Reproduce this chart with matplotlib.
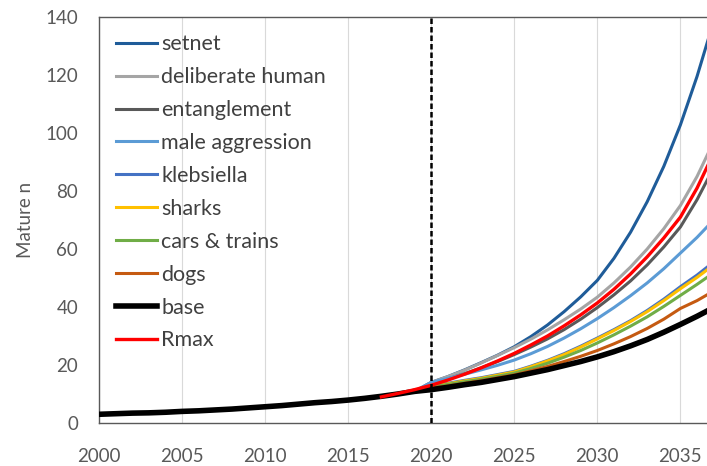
import matplotlib.pyplot as plt

plt.rcParams['font.family'] = ['Lato', 'DejaVu Sans']

# years
hist_years = list(range(2000, 2020))
proj_years = list(range(2020, 2038))
rmax_years = list(range(2017, 2038))

# shared history 2000-2019
history = [3.0, 3.2, 3.4, 3.5, 3.7, 4.0, 4.2, 4.5, 4.8, 5.2,
           5.6, 6.0, 6.5, 7.0, 7.4, 7.9, 8.5, 9.2, 10.0, 10.9]

# projections 2020-2037
setnet = [14.0, 16.0, 18.3, 20.8, 23.4, 26.3, 29.8, 33.8, 38.4, 43.5,
          49.2, 56.8, 65.8, 76.3, 88.5, 102.8, 119.5, 138.5]
deliberate_human = [14.0, 16.0, 18.2, 20.7, 23.3, 26.0, 28.9, 32.1, 35.6, 39.3,
                    43.4, 48.3, 53.8, 60.0, 67.0, 75.0, 85.0, 97.0]
entanglement = [13.5, 15.2, 17.0, 19.0, 21.2, 23.6, 26.2, 29.0, 32.2, 35.8,
                39.8, 44.2, 49.0, 54.5, 60.7, 67.6, 77.0, 88.0]
male_aggression = [14.0, 15.4, 16.8, 18.3, 19.9, 21.7, 23.9, 26.4, 29.3, 32.5,
                   36.0, 39.8, 43.9, 48.3, 53.2, 58.6, 64.0, 70.0]
klebsiella = [12.8, 13.7, 14.7, 15.6, 16.7, 17.8, 19.6, 21.6, 23.9, 26.5,
              29.3, 32.2, 35.3, 38.8, 42.7, 47.0, 51.0, 55.5]
sharks = [12.6, 13.5, 14.5, 15.4, 16.5, 17.6, 19.4, 21.4, 23.6, 26.2,
          29.0, 31.9, 35.0, 38.4, 42.2, 46.3, 50.2, 54.5]
cars_trains = [12.4, 13.3, 14.2, 15.1, 16.1, 17.2, 18.8, 20.6, 22.7, 25.0,
               27.6, 30.4, 33.4, 36.6, 40.2, 44.0, 47.8, 51.8]
dogs = [12.0, 12.8, 13.7, 14.6, 15.6, 16.6, 18.0, 19.5, 21.2, 23.0,
        25.0, 27.3, 29.8, 32.6, 35.8, 39.5, 42.2, 45.5]
base = [11.5, 12.3, 13.2, 14.0, 15.0, 16.0, 17.2, 18.4, 19.8, 21.2,
        22.8, 24.6, 26.6, 28.8, 31.3, 34.0, 36.8, 39.8]
rmax = [9.0, 10.2, 11.5, 13.0, 14.8, 16.8, 19.0, 21.4, 24.0, 26.9, 30.0,
        33.5, 37.3, 41.4, 46.1, 51.4, 57.3, 63.8, 71.0, 81.0, 93.0]

labels = ['setnet', 'deliberate human', 'entanglement', 'male aggression',
          'klebsiella', 'sharks', 'cars & trains', 'dogs', 'base']
projections = [setnet, deliberate_human, entanglement, male_aggression,
               klebsiella, sharks, cars_trains, dogs, base]
colors = ['#1F5C99', '#A5A5A5', '#595959', '#5B9BD5', '#4472C4',
          '#FFC000', '#70AD47', '#C55A11', '#000000']

fig = plt.figure(figsize=(7.07, 4.66), dpi=100)
ax = fig.add_axes([0.14, 0.0923, 0.86, 0.8712])

for lab, proj, col in zip(labels, projections, colors):
    lw = 4.0 if lab == 'base' else 2.2
    ax.plot(hist_years + proj_years, history + proj, color=col, lw=lw,
            label=lab, zorder=4 if lab == 'base' else 3)
ax.plot(rmax_years, rmax, color='#FF0000', lw=2.4, label='Rmax', zorder=5)

ax.axvline(2020, color='black', lw=1.8, ls=(0, (2.2, 1.2)), zorder=6)

ax.set_xlim(2000, 2036.6)
ax.set_ylim(0, 140)
ax.set_xticks(range(2000, 2040, 5))
ax.set_yticks(range(0, 141, 20))
ax.grid(axis='x', color='#D9D9D9', lw=0.8)
ax.set_axisbelow(True)
ax.tick_params(length=0, labelsize=13.5, colors='#595959')
ax.tick_params(axis='x', pad=18)
ax.tick_params(axis='y', pad=15)
for s in ['top', 'left', 'bottom']:
    ax.spines[s].set_color('#595959')
    ax.spines[s].set_linewidth(1.0)
ax.spines['right'].set_visible(False)
ax.set_ylabel('Mature n', fontsize=13.5, color='#595959', labelpad=8)

leg = ax.legend(loc='upper left', frameon=False, fontsize=15.5,
                handlelength=1.9, handletextpad=0.2, labelspacing=0.6,
                borderaxespad=0.4, labelcolor='#404040')

fig.savefig('out.png', dpi=100)
